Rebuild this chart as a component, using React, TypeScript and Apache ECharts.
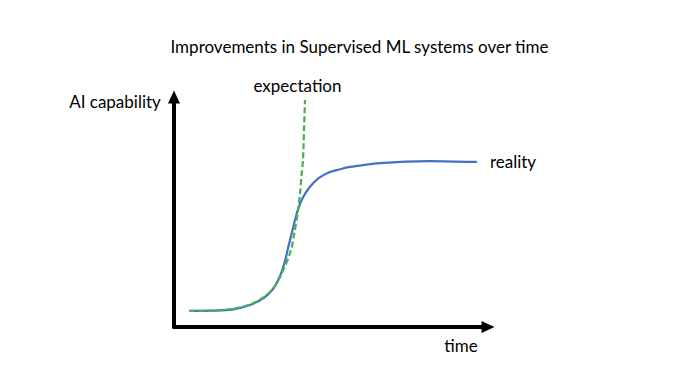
import React, { useEffect, useRef } from "react";
import * as echarts from "echarts";

const titleText = "Improvements in Supervised ML systems over time";
const yAxisName = "AI capability";
const xAxisName = "time";
const realityName = "reality";
const expectationName = "expectation";

// [time, capability] in arbitrary 0-100 units
const realityData: [number, number][] = [
  [4.87, 6.96], [12.52, 7.09], [18.89, 7.7], [24.2, 9.57], [28.44, 12.48],
  [31.53, 16.52], [33.76, 22.17], [35.35, 28.7], [36.4, 34.78], [37.48, 40.74],
  [38.54, 46.52], [39.59, 51.61], [41.18, 56.65], [43.31, 61.0], [45.96, 64.65],
  [49.14, 67.09], [52.87, 68.57], [55.1, 69.4], [65.61, 71.3], [81.53, 72.17],
  [96.5, 71.74],
];
const expectationData: [number, number][] = [
  [4.87, 6.96], [12.52, 7.17], [18.89, 7.91], [24.2, 9.78], [28.44, 12.83],
  [31.62, 16.83], [34.81, 24.78], [37.26, 33.48], [38.31, 40.74], [39.39, 49.43],
  [40.13, 58.13], [40.67, 66.83], [41.08, 72.61], [41.4, 85.65], [41.72, 98.7],
];

const FONT = "Lato, 'Open Sans', sans-serif";

export default function App() {
  const ref = useRef<HTMLDivElement>(null);
  useEffect(() => {
    if (!ref.current) return;
    const chart = echarts.init(ref.current, undefined, { renderer: "svg" });
    const textStyle = (s: string, size = 16) => ({
      text: s,
      fill: "#000",
      font: `${size}px ${FONT}`,
      textAlign: "center",
      textVerticalAlign: "middle",
    });
    const axisLine = {
      show: true,
      symbol: ["none", "triangle"],
      symbolSize: [12, 13],
      lineStyle: { color: "#000", width: 4 },
    };
    chart.setOption({
      animation: false,
      backgroundColor: "#fff",
      grid: { left: 174, right: 186, top: 97, bottom: 56 },
      xAxis: {
        type: "value", min: 0, max: 100,
        splitLine: { show: false }, axisTick: { show: false }, axisLabel: { show: false },
        axisLine,
      },
      yAxis: {
        type: "value", min: 0, max: 100,
        splitLine: { show: false }, axisTick: { show: false }, axisLabel: { show: false },
        axisLine,
      },
      series: [
        {
          name: realityName, type: "line", data: realityData, smooth: 0.3,
          showSymbol: false, lineStyle: { color: "#4472C4", width: 2.25 }, z: 3,
        },
        {
          name: expectationName, type: "line", data: expectationData, smooth: 0.3,
          showSymbol: false, lineStyle: { color: "#4CAF50", width: 2.25, type: [6, 3] }, z: 4,
        },
      ],
      graphic: [
        { type: "text", x: 359.5, y: 46.5, style: textStyle(titleText, 17) },
        { type: "text", x: 297.5, y: 85, style: textStyle(expectationName, 17) },
        { type: "text", x: 115, y: 101.5, style: textStyle(yAxisName, 17) },
        { type: "text", x: 513, y: 161, style: textStyle(realityName, 17) },
        { type: "text", x: 461, y: 345, style: textStyle(xAxisName, 17) },
      ],
    });
    return () => chart.dispose();
  }, []);
  return <div ref={ref} style={{ position: "fixed", left: 0, top: 0, width: 674, height: 383 }} />;
}
